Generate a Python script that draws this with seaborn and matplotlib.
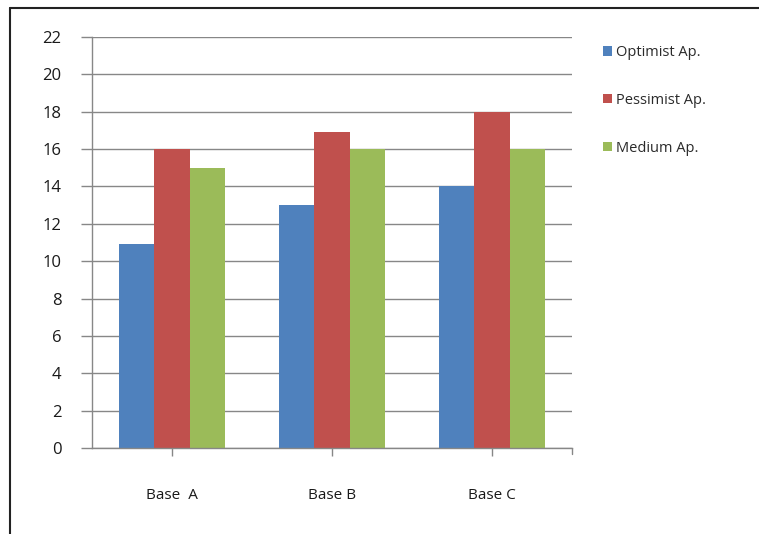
import matplotlib
matplotlib.use("Agg")
import matplotlib.pyplot as plt
import seaborn as sns
import pandas as pd
from matplotlib.lines import Line2D
from matplotlib.patches import Patch

# Chart data
categories = ["Base  A", "Base B", "Base C"]
series_names = ["Optimist Ap.", "Pessimist Ap.", "Medium Ap."]
optimist = [10.9, 13, 14]
pessimist = [16, 16.9, 18]
medium = [15, 16, 16]
y_ticks = list(range(0, 23, 2))

colors = ["#4F81BD", "#C0504D", "#9BBB59"]

rows = []
for name, vals in zip(series_names, [optimist, pessimist, medium]):
    for cat, v in zip(categories, vals):
        rows.append({"category": cat, "series": name, "value": v})
df = pd.DataFrame(rows)

sns.set_style("white")
plt.rcParams["font.family"] = ["Open Sans", "DejaVu Sans"]

fig = plt.figure(figsize=(7.59, 5.34), dpi=100)
ax = fig.add_axes([92 / 759, (534 - 448) / 534, 480 / 759, 411 / 534])

sns.barplot(data=df, x="category", y="value", hue="series",
            palette=colors, width=0.66, gap=0, saturation=1,
            edgecolor="none", linewidth=0, ax=ax, legend=False)

ax.set_xlim(-0.5, 2.5)
ax.set_ylim(0, 22)
ax.set_yticks(y_ticks)
ax.set_yticklabels([str(t) for t in y_ticks])
ax.set_xlabel("")
ax.set_ylabel("")

grid_c = "#878787"
ax.yaxis.grid(True, color=grid_c, linewidth=1)
ax.set_axisbelow(True)
for s in ["top", "right"]:
    ax.spines[s].set_visible(False)
for s in ["left", "bottom"]:
    ax.spines[s].set_color(grid_c)
    ax.spines[s].set_linewidth(1)

ax.tick_params(axis="y", left=True, length=8, width=1, color=grid_c,
               labelsize=12, labelcolor="#1a1a1a", pad=14)
ax.set_xticks([0, 1, 2])
ax.set_xticklabels(categories)
ax.tick_params(axis="x", bottom=True, length=6, width=1, color=grid_c,
               labelsize=11, labelcolor="#1a1a1a", pad=23)
# tick mark at the right end of the category axis
ax.plot([2.5, 2.5], [0, -0.3], color=grid_c, lw=1, clip_on=False,
        transform=ax.transData)

handles = [Patch(facecolor=c, edgecolor="none") for c in colors]
leg = fig.legend(handles, series_names, loc="upper left",
                 bbox_to_anchor=(590 / 759, 1 - 32 / 534), frameon=False,
                 fontsize=10.5, handlelength=0.6, handleheight=0.6,
                 handletextpad=0.3, labelspacing=2.25)
for t in leg.get_texts():
    t.set_color("#2a2a2a")

# outer chart frame (left and top edges)
fig.add_artist(Line2D([10 / 759, 10 / 759], [0, 1 - 8 / 534],
                      transform=fig.transFigure, color="#222222", lw=1.5))
fig.add_artist(Line2D([10 / 759, 1], [1 - 8 / 534, 1 - 8 / 534],
                      transform=fig.transFigure, color="#222222", lw=1.5))

fig.savefig("out.png", dpi=100)
